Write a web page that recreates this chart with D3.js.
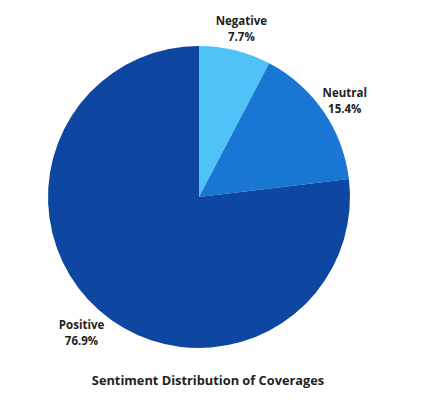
<!DOCTYPE html>
<html><head><meta charset="utf-8">
<script src="https://cdn.jsdelivr.net/npm/d3@7"></script>
<style>body{margin:0;background:#fff}svg{display:block}</style>
</head><body>
<script>
const categories = ["Negative", "Neutral", "Positive"];
const values = [7.7, 15.4, 76.9];
const colors = ["#4FC3F7", "#1976D2", "#0D47A1"];
const title = "Sentiment Distribution of Coverages";

const W = 424, H = 414, cx = 199, cy = 197, r = 151;
const svg = d3.select("body").append("svg").attr("width", W).attr("height", H);
const data = categories.map((c, i) => ({c, v: values[i], col: colors[i]}));
const pie = d3.pie().value(d => d.v).sort(null);
const arc = d3.arc().innerRadius(0).outerRadius(r);
const labelArc = d3.arc().innerRadius(177).outerRadius(177);
const g = svg.append("g").attr("transform", `translate(${cx},${cy})`);
const arcs = pie(data);
g.selectAll("path").data(arcs).join("path").attr("d", arc).attr("fill", d => d.data.col);
const font = "'Open Sans', Lato, sans-serif";
const lab = g.selectAll("text.l").data(arcs).join("text").attr("class","l")
  .attr("transform", d => { const [x,y] = labelArc.centroid(d); return `translate(${x},${y})`; })
  .attr("text-anchor","middle").attr("font-family",font)
  .attr("font-weight","bold").attr("font-size",11.5).attr("fill","#222");
lab.append("tspan").attr("x",0).attr("dy","0em").text(d => d.data.c);
lab.append("tspan").attr("x",0).attr("dy","1.4em").text(d => d.data.v.toFixed(1) + "%");
svg.append("text").attr("x",208).attr("y",385).attr("text-anchor","middle")
  .attr("font-family",font).attr("font-weight","bold")
  .attr("font-size",12.8).attr("fill","#222").text(title);
</script>
</body></html>
